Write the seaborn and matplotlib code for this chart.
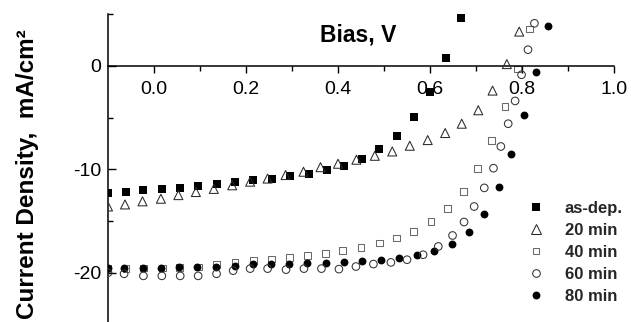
import matplotlib
matplotlib.use('Agg')
import matplotlib.pyplot as plt
from matplotlib import font_manager
from matplotlib.lines import Line2D
from matplotlib.ticker import FixedLocator
import seaborn as sns
import pandas as pd

sns.set_style('ticks')
plt.rcParams['font.family'] = ['Liberation Sans', 'DejaVu Sans']
plt.rcParams['axes.unicode_minus'] = False

# ---------------- data ----------------
asdep_v = [-0.100, -0.061, -0.023, 0.018, 0.056, 0.096, 0.136, 0.176, 0.216, 0.256,
           0.296, 0.337, 0.375, 0.414, 0.453, 0.490, 0.528, 0.565, 0.601, 0.635, 0.667]
asdep_j = [-12.3, -12.2, -12.05, -11.9, -11.8, -11.6, -11.4, -11.27, -11.08, -10.9,
           -10.63, -10.43, -10.1, -9.66, -9.0, -8.05, -6.83, -4.96, -2.58, 0.74, 4.6]

m20_v = [-0.100, -0.063, -0.025, 0.015, 0.053, 0.091, 0.130, 0.170, 0.209, 0.247,
         0.286, 0.325, 0.362, 0.400, 0.440, 0.480, 0.518, 0.556, 0.595, 0.633,
         0.669, 0.705, 0.736, 0.767, 0.794]
m20_j = [-13.6, -13.4, -13.1, -12.85, -12.5, -12.2, -11.9, -11.55, -11.2, -10.9,
         -10.56, -10.24, -9.8, -9.47, -9.08, -8.7, -8.28, -7.73, -7.18, -6.5,
         -5.6, -4.3, -2.4, 0.16, 3.3]

m40_v = [-0.100, -0.061, -0.023, 0.018, 0.056, 0.096, 0.135, 0.176, 0.216, 0.256,
         0.294, 0.333, 0.373, 0.410, 0.450, 0.490, 0.527, 0.565, 0.602, 0.638,
         0.673, 0.703, 0.734, 0.763, 0.790, 0.816]
m40_j = [-19.6, -19.6, -19.55, -19.55, -19.5, -19.45, -19.2, -18.97, -18.84, -18.68,
         -18.5, -18.36, -18.16, -17.87, -17.55, -17.13, -16.65, -16.0, -15.04, -13.8,
         -12.14, -9.95, -7.2, -3.9, -0.32, 3.55]

m60_v = [-0.100, -0.065, -0.023, 0.017, 0.057, 0.096, 0.136, 0.172, 0.209, 0.247,
         0.287, 0.326, 0.364, 0.402, 0.439, 0.477, 0.515, 0.550, 0.585, 0.618,
         0.649, 0.674, 0.696, 0.718, 0.738, 0.754, 0.770, 0.785, 0.799, 0.813, 0.827]
m60_j = [-20.0, -20.1, -20.3, -20.3, -20.3, -20.3, -20.1, -19.8, -19.6, -19.6,
         -19.7, -19.6, -19.6, -19.65, -19.4, -19.16, -19.0, -18.74, -18.26, -17.46,
         -16.4, -15.1, -13.6, -11.8, -9.9, -7.8, -5.6, -3.4, -0.87, 1.55, 4.1]

m80_v = [-0.100, -0.065, -0.025, 0.015, 0.055, 0.094, 0.135, 0.175, 0.215, 0.254,
         0.293, 0.333, 0.374, 0.414, 0.453, 0.493, 0.533, 0.571, 0.609, 0.648,
         0.685, 0.717, 0.750, 0.776, 0.805, 0.831, 0.856]
m80_j = [-19.55, -19.55, -19.55, -19.55, -19.45, -19.45, -19.4, -19.3, -19.2, -19.2,
         -19.15, -19.06, -19.03, -18.97, -18.84, -18.74, -18.58, -18.33, -17.94, -17.2,
         -16.07, -14.3, -11.7, -8.5, -4.73, -0.64, 3.8]

series_names = ['as-dep.', '20 min', '40 min', '60 min', '80 min']
x_ticks = [0.0, 0.2, 0.4, 0.6, 0.8, 1.0]
x_ticklabels = ['0.0', '0.2', '0.4', '0.6', '0.8', '1.0']
y_ticks = [0, -10, -20]
y_ticklabels = ['0', '-10', '-20']

# ---------------- styles ----------------
styles = {
    'as-dep.': dict(marker='s', fc='black', ec='black', s=30, lw=0, z=3),
    '20 min': dict(marker='^', fc='none', ec='#2a2a2a', s=42, lw=0.75, z=4),
    '40 min': dict(marker='s', fc='none', ec='#6a6a6a', s=24, lw=0.75, z=2),
    '60 min': dict(marker='o', fc='none', ec='#333333', s=30, lw=0.75, z=4),
    '80 min': dict(marker='o', fc='black', ec='black', s=32, lw=0, z=3),
}

frames = []
for name, v, j in zip(series_names,
                      [asdep_v, m20_v, m40_v, m60_v, m80_v],
                      [asdep_j, m20_j, m40_j, m60_j, m80_j]):
    frames.append(pd.DataFrame({'Bias': v, 'J': j, 'series': name}))
df = pd.concat(frames, ignore_index=True)

fig = plt.figure(figsize=(6.31, 3.22), dpi=100)
ax_h = 310.5 / 322
ax = fig.add_axes([108 / 631, 1 - 14 / 322 - ax_h, 506 / 631, ax_h])

for name in series_names:
    st = styles[name]
    sub = df[df['series'] == name]
    if st['fc'] == 'none':
        sns.scatterplot(data=sub, x='Bias', y='J', ax=ax, marker=st['marker'], s=st['s'],
                        facecolor='none', edgecolor=st['ec'], linewidth=st['lw'],
                        legend=False, zorder=st['z'])
    else:
        sns.scatterplot(data=sub, x='Bias', y='J', ax=ax, marker=st['marker'], s=st['s'],
                        color=st['fc'], edgecolor=st['ec'], linewidth=st['lw'],
                        legend=False, zorder=st['z'])

ax.set_xlim(-0.1, 1.0)
ax.set_ylim(-25, 5)
ax.set_xlabel('')
ax.set_ylabel('')

for s in ['top', 'right']:
    ax.spines[s].set_visible(False)
ax.spines['bottom'].set_position(('data', 0))
for s in ['left', 'bottom']:
    ax.spines[s].set_linewidth(1.1)
    ax.spines[s].set_color('black')

ax.xaxis.set_major_locator(FixedLocator(x_ticks))
ax.set_xticklabels(x_ticklabels)
ax.xaxis.set_minor_locator(FixedLocator([0.1, 0.3, 0.5, 0.7, 0.9]))
ax.yaxis.set_major_locator(FixedLocator(y_ticks))
ax.set_yticklabels(y_ticklabels)
ax.yaxis.set_minor_locator(FixedLocator([5, -5, -15, -25]))

ax.tick_params(axis='x', which='major', direction='out', length=5, width=1.0,
               labelsize=14, pad=6, colors='black')
ax.tick_params(axis='x', which='minor', direction='out', length=3.4, width=1.0, colors='black')
ax.tick_params(axis='y', which='major', direction='in', length=5.5, width=1.0,
               labelsize=14, pad=5, colors='black')
ax.tick_params(axis='y', which='minor', direction='in', length=3.6, width=1.0, colors='black')

ax.text(0.443, 2.3, 'Bias, V', ha='center', va='baseline', fontsize=16.5,
        fontweight='bold', color='black')

try:
    font_manager.findfont(font_manager.FontProperties(family='Liberation Sans Narrow', weight='bold'),
                          fallback_to_default=False)
    ylab_family = ['Liberation Sans Narrow', 'DejaVu Sans']
    ylab_size = 21
except Exception:
    ylab_family = ['Liberation Sans', 'DejaVu Sans']
    ylab_size = 17.5

fig.text(28 / 631, 1 - 174 / 322, 'Current Density,  mA/cm²', rotation=90,
         ha='center', va='center', fontsize=ylab_size, fontweight='bold',
         family=ylab_family, color='black')

handles = []
for name in series_names:
    st = styles[name]
    ms = (st['s'] ** 0.5)
    handles.append(Line2D([], [], linestyle='none', marker=st['marker'], markersize=ms,
                          markerfacecolor=st['fc'], markeredgecolor=st['ec'],
                          markeredgewidth=st['lw']))
leg = ax.legend(handles, series_names, loc='center left',
                bbox_to_anchor=(528 / 631, 1 - 252.5 / 322), bbox_transform=fig.transFigure,
                frameon=False, borderpad=0, borderaxespad=0, handlelength=1.0,
                handletextpad=1.2, labelspacing=0.42,
                prop={'weight': 'bold', 'size': 12})

fig.savefig('out.png', dpi=100)
